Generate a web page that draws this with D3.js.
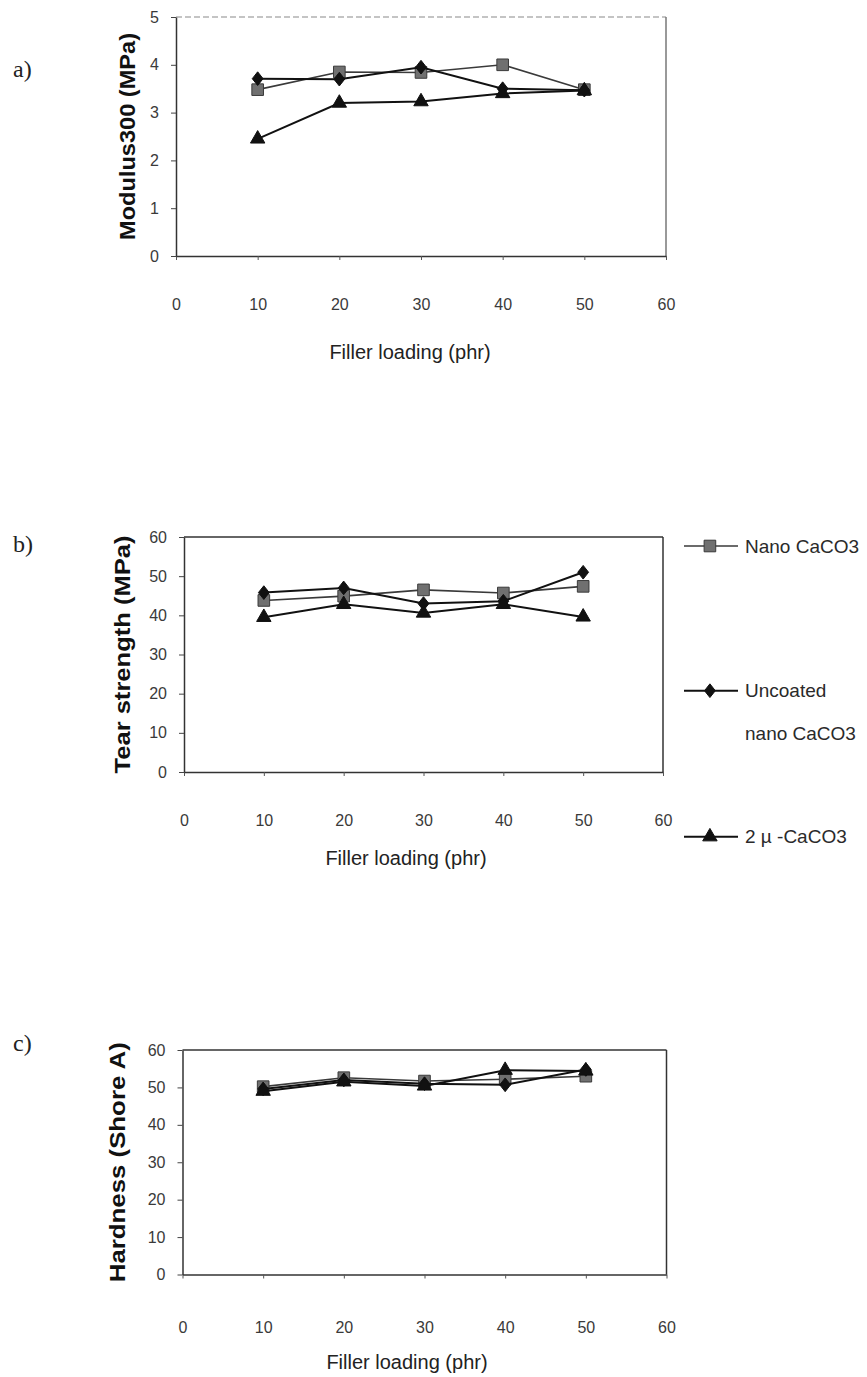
<!DOCTYPE html>
<html>
<head>
<meta charset="utf-8">
<script src="https://cdn.jsdelivr.net/npm/d3@7"></script>
<style>
  html, body { margin: 0; padding: 0; background: #ffffff; }
  svg { display: block; }
</style>
</head>
<body>
<svg id="chart" width="867" height="1377"></svg>
<script>
// ---------------- DATA ----------------
const fillerLoading = [10, 20, 30, 40, 50];
const xTickValues = [0, 10, 20, 30, 40, 50, 60];
const seriesNames = ["Nano CaCO3", "Uncoated nano CaCO3", "2µ-CaCO3"];

const modulusNano     = [3.48, 3.85, 3.84, 4.0, 3.48];
const modulusUncoated = [3.71, 3.70, 3.95, 3.50, 3.47];
const modulus2u       = [2.45, 3.20, 3.23, 3.40, 3.46];
const modulusTicks    = [0, 1, 2, 3, 4, 5];

const tearNano     = [43.8, 44.9, 46.5, 45.7, 47.4];
const tearUncoated = [45.8, 47.0, 43.0, 43.6, 51.0];
const tear2u       = [39.5, 42.8, 40.6, 42.8, 39.6];
const tearTicks    = [0, 10, 20, 30, 40, 50, 60];

const hardnessNano     = [50.2, 52.6, 51.7, 52.2, 53.0];
const hardnessUncoated = [49.6, 52.0, 51.0, 50.7, 54.8];
const hardness2u       = [49.0, 51.5, 50.4, 54.6, 54.4];
const hardnessTicks    = [0, 10, 20, 30, 40, 50, 60];

// ---------------- LAYOUT ----------------
const FONT = "'Liberation Sans', Arial, Helvetica, sans-serif";
const SERIF = "'Liberation Serif', 'Times New Roman', serif";

const panels = [
  { label: "a)", labelY: 77, x0: 176, x1: 666, yTop: 17, yBot: 256, yMax: 5,
    yTicks: modulusTicks, series: [modulusNano, modulusUncoated, modulus2u],
    yTitle: "Modulus300 (MPa)", yTitleX: 127, yTitleLen: 207,
    xLabelY: 304, xTitleX: 410, xTitleY: 352, topStyle: "dashed" },
  { label: "b)", labelY: 552, x0: 184, x1: 663, yTop: 537, yBot: 772, yMax: 60,
    yTicks: tearTicks, series: [tearNano, tearUncoated, tear2u],
    yTitle: "Tear strength (MPa)", yTitleX: 122, yTitleLen: 238,
    xLabelY: 820, xTitleX: 406, xTitleY: 858, topStyle: "solid" },
  { label: "c)", labelY: 1051, x0: 182.5, x1: 666.5, yTop: 1050, yBot: 1274.5, yMax: 60,
    yTicks: hardnessTicks, series: [hardnessNano, hardnessUncoated, hardness2u],
    yTitle: "Hardness (Shore A)", yTitleX: 117, yTitleLen: 240,
    xLabelY: 1327, xTitleX: 407, xTitleY: 1362, topStyle: "solid" }
];

// custom diamond symbol (taller than wide)
const diamondType = {
  draw(ctx, size) {
    const r = Math.sqrt(size) / 2;
    ctx.moveTo(0, -r * 1.2);
    ctx.lineTo(r * 0.95, 0);
    ctx.lineTo(0, r * 1.2);
    ctx.lineTo(-r * 0.95, 0);
    ctx.closePath();
  }
};

const seriesStyle = [
  { symbol: d3.symbol(d3.symbolSquare, 135), fill: "#707070", stroke: "#3a3a3a", line: "#3a3a3a", width: 1.6 },
  { symbol: d3.symbol(diamondType, 130), fill: "#111111", stroke: "#111111", line: "#111111", width: 2 },
  { symbol: d3.symbol(d3.symbolTriangle, 90), fill: "#111111", stroke: "#111111", line: "#111111", width: 2 }
];

const svg = d3.select("#chart");

panels.forEach(p => {
  const x = d3.scaleLinear().domain([0, 60]).range([p.x0, p.x1]);
  const y = d3.scaleLinear().domain([0, p.yMax]).range([p.yBot, p.yTop]);
  const g = svg.append("g");

  // frame: top and right borders
  g.append("line")
    .attr("x1", p.x0).attr("x2", p.x1).attr("y1", p.yTop).attr("y2", p.yTop)
    .attr("stroke", p.topStyle === "dashed" ? "#8a8a8a" : "#333")
    .attr("stroke-width", p.topStyle === "dashed" ? 1.2 : 1.5)
    .attr("stroke-dasharray", p.topStyle === "dashed" ? "6,3" : null);
  g.append("line")
    .attr("x1", p.x1).attr("x2", p.x1).attr("y1", p.yTop).attr("y2", p.yBot)
    .attr("stroke", p.topStyle === "dashed" ? "#777" : "#333")
    .attr("stroke-width", 1.5);

  // x axis (ticks only)
  const xAxis = g.append("g")
    .attr("transform", `translate(0,${p.yBot})`)
    .call(d3.axisBottom(x).tickValues(xTickValues).tickSize(4).tickSizeOuter(0).tickFormat(""));
  xAxis.select(".domain").attr("stroke", "#333").attr("stroke-width", 1.5);
  xAxis.selectAll(".tick line").attr("stroke", "#555").attr("stroke-width", 1);

  // x tick labels
  const xLab = g.append("g")
    .attr("transform", `translate(0,${p.xLabelY})`)
    .call(d3.axisBottom(x).tickValues(xTickValues).tickSize(0).tickPadding(0).tickFormat(d3.format("d")));
  xLab.select(".domain").remove();
  xLab.selectAll("text")
    .attr("y", 0).attr("dy", "0.35em")
    .attr("font-family", FONT).attr("font-size", 16).attr("fill", "#3a3a3a");

  // y axis
  const yAxis = g.append("g")
    .attr("transform", `translate(${p.x0},0)`)
    .call(d3.axisLeft(y).tickValues(p.yTicks).tickSize(5).tickSizeOuter(0).tickPadding(12).tickFormat(d3.format("d")));
  yAxis.select(".domain").attr("stroke", "#333").attr("stroke-width", 1.5);
  yAxis.selectAll(".tick line").attr("stroke", "#444").attr("stroke-width", 1);
  yAxis.selectAll("text")
    .attr("font-family", FONT).attr("font-size", 16).attr("fill", "#3a3a3a");

  // series
  p.series.forEach((vals, si) => {
    const st = seriesStyle[si];
    const pts = fillerLoading.map((xv, i) => [xv, vals[i]]);
    g.append("path")
      .datum(pts)
      .attr("fill", "none")
      .attr("stroke", st.line)
      .attr("stroke-width", st.width)
      .attr("d", d3.line().x(d => x(d[0])).y(d => y(d[1])));
    g.selectAll(null)
      .data(pts)
      .enter().append("path")
      .attr("transform", d => `translate(${x(d[0])},${y(d[1])})`)
      .attr("d", st.symbol)
      .attr("fill", st.fill)
      .attr("stroke", st.stroke)
      .attr("stroke-width", 1);
  });

  // y title
  const cy = (p.yTop + p.yBot) / 2;
  g.append("text")
    .attr("transform", `translate(${p.yTitleX},${cy}) rotate(-90)`)
    .attr("text-anchor", "middle")
    .attr("dominant-baseline", "central")
    .attr("font-family", FONT).attr("font-weight", "bold").attr("font-size", 22)
    .attr("textLength", p.yTitleLen).attr("lengthAdjust", "spacingAndGlyphs")
    .attr("fill", "#111")
    .text(p.yTitle);

  // x title
  g.append("text")
    .attr("x", p.xTitleX).attr("y", p.xTitleY)
    .attr("text-anchor", "middle").attr("dominant-baseline", "central")
    .attr("font-family", FONT).attr("font-size", 20).attr("fill", "#222")
    .text("Filler loading (phr)");

  // panel label
  g.append("text")
    .attr("x", 13).attr("y", p.labelY)
    .attr("font-family", SERIF).attr("font-size", 24).attr("fill", "#222")
    .text(p.label);
});

// ---------------- LEGEND (beside panel b) ----------------
const legendRows = [
  { lines: ["Nano CaCO3"], y: 546 },
  { lines: ["Uncoated", "nano CaCO3"], y: 690.7 },
  { lines: ["2 µ -CaCO3"], y: 836.7 }
];
const legX = d3.scaleLinear().domain([0, 1]).range([684, 738]);
const leg = svg.append("g");
legendRows.forEach((r, i) => {
  const st = seriesStyle[i];
  leg.append("line")
    .attr("x1", legX(0)).attr("x2", legX(1)).attr("y1", r.y).attr("y2", r.y)
    .attr("stroke", st.line).attr("stroke-width", st.width);
  leg.append("path")
    .attr("transform", `translate(${legX(0.48)},${r.y})`)
    .attr("d", st.symbol)
    .attr("fill", st.fill).attr("stroke", st.stroke).attr("stroke-width", 1);
  r.lines.forEach((t, k) => {
    leg.append("text")
      .attr("x", 745).attr("y", r.y + k * 42.5)
      .attr("dominant-baseline", "central")
      .attr("font-family", FONT).attr("font-size", 19).attr("fill", "#2a2a2a")
      .text(t);
  });
});
</script>
</body>
</html>
